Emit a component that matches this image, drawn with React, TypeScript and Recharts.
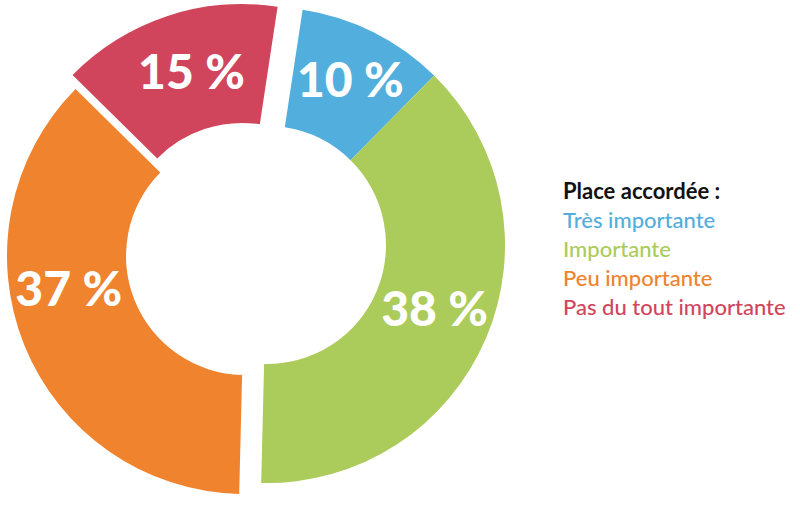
import { Legend, Pie, PieChart, Sector } from 'recharts'

const categories = ['Très importante', 'Importante', 'Peu importante', 'Pas du tout importante']
const values = [10, 38, 37, 15]
const legendTitle = 'Place accordée :'
const colors = ['#52aedc', '#abcb5a', '#ef832e', '#d1455c']

const dados = categories.map((nom, i) => ({ nom, valeur: values[i], fill: colors[i] }))

// décalage de chaque part (éclatement), en px
const shifts = [
  [12, -3],
  [12, -3],
  [-10, 8],
  [-13, -6],
]
// petit ajustement angulaire des étiquettes (degrés)
const labelNudge = [0, 2.4, -12, -2]

const RAD = Math.PI / 180

function ShiftedSector(props: any) {
  const [dx, dy] = shifts[props.index] ?? [0, 0]
  return (
    <g transform={`translate(${dx},${dy})`}>
      <Sector {...props} stroke="none" />
    </g>
  )
}

function renderLabel(props: any) {
  const { cx, cy, midAngle, index, value } = props
  const [dx, dy] = shifts[index]
  const a = (midAngle + labelNudge[index]) * RAD
  const r = index === 0 ? 186 : 179
  const x = cx + dx + r * Math.cos(a)
  const y = cy + dy - r * Math.sin(a)
  return (
    <text
      x={x}
      y={y}
      fill="#fff"
      textAnchor="middle"
      dominantBaseline="central"
      style={{ fontFamily: 'Lato', fontSize: 48, fontWeight: 900 }}
    >
      {`${value} %`}
    </text>
  )
}

function renderLegend({ payload }: any) {
  const items = [...(payload ?? [])].sort(
    (a: any, b: any) => categories.indexOf(a.value) - categories.indexOf(b.value),
  )
  return (
    <div style={{ fontFamily: 'Lato', fontSize: 22, lineHeight: '29px', textAlign: 'left' }}>
      <div style={{ fontWeight: 700, color: '#111' }}>{legendTitle}</div>
      {items.map((p: any) => (
        <div key={p.value} style={{ color: colors[categories.indexOf(p.value)], fontWeight: 500 }}>
          {p.value}
        </div>
      ))}
    </div>
  )
}

export default function App() {
  return (
    <div style={{ position: 'absolute', left: 0, top: 0, width: 800, height: 510, background: '#fff' }}>
      <PieChart width={800} height={510} margin={{ top: 0, right: 0, bottom: 0, left: 0 }}>
        <Pie
          data={dados}
          dataKey="valeur"
          nameKey="nom"
          cx={255}
          cy={248}
          innerRadius={119}
          outerRadius={238}
          startAngle={81.4}
          endAngle={-278.6}
          stroke="none"
          shape={ShiftedSector}
          label={renderLabel}
          labelLine={false}
          isAnimationActive={false}
        />
        <Legend
          layout="vertical"
          align="right"
          verticalAlign="top"
          wrapperStyle={{ left: 563, top: 176, width: 237 }}
          content={renderLegend}
        />
      </PieChart>
    </div>
  )
}
